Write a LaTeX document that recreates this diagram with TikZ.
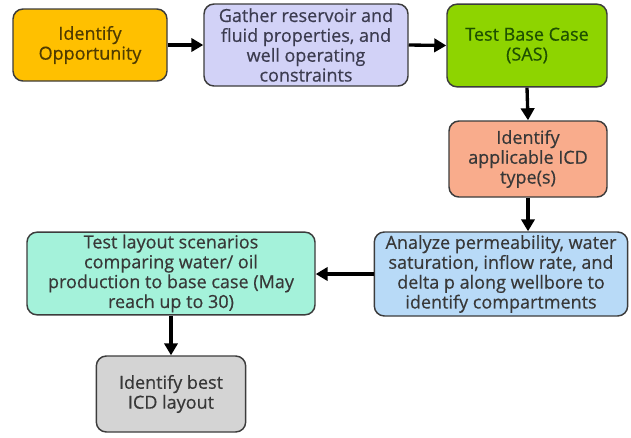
\documentclass[tikz,border=0pt]{standalone}
\usepackage{fontspec}
\setmainfont{Open Sans}
\newfontfamily\boxfont{Open Sans}[FakeBold=0.5]
\usetikzlibrary{arrows.meta}
\definecolor{cOrange}{HTML}{FFC000}
\definecolor{cLav}{HTML}{D2D2F7}
\definecolor{cGreen}{HTML}{8ED400}
\definecolor{cSalmon}{HTML}{F9AC8C}
\definecolor{cBlue}{HTML}{B8DAF7}
\definecolor{cAqua}{HTML}{A4F2DA}
\definecolor{cGray}{HTML}{D4D4D4}
\definecolor{cBorder}{HTML}{3C3C3C}
\begin{document}
\begin{tikzpicture}[x=0.75pt,y=-0.75pt,
  box/.style={draw=cBorder,line width=1.1pt,rounded corners=7.5pt,align=center,
    font=\boxfont\fontsize{13.5}{14.9}\selectfont,inner sep=0pt,text=black!78},
  flow/.style={line width=2.5pt,-{Triangle[length=9pt,width=10pt]}}]
\useasboundingbox (0,0) rectangle (631,437);
\node[box,fill=cOrange,minimum width=115.5pt,minimum height=54pt,text={rgb,255:red,80;green,60;blue,0}] (b1) at (90,45) {Identify\\Opportunity};
\node[box,fill=cLav,minimum width=153pt,minimum height=61.5pt,text={rgb,255:red,60;green,60;blue,80}] (b2) at (306,45) {Gather reservoir and\\fluid properties, and\\well operating\\constraints};
\node[box,fill=cGreen,minimum width=120pt,minimum height=62pt,text={rgb,255:red,30;green,80;blue,0}] (b3) at (527,45.5) {Test Base Case\\(SAS)};
\node[box,fill=cSalmon,minimum width=118.5pt,minimum height=57pt] (b4) at (528,159) {Identify\\applicable ICD\\type(s)};
\node[box,fill=cBlue,minimum width=190pt,minimum height=63pt] (b5) at (501,274) {Analyze permeability, water\\saturation, inflow rate, and\\delta p along wellbore to\\identify compartments};
\node[box,fill=cAqua,minimum width=216pt,minimum height=62pt] (b6) at (171,273.5) {Test layout scenarios\\comparing water/ oil\\production to base case (May\\reach up to 30)};
\node[box,fill=cGray,minimum width=112pt,minimum height=57pt] (b7) at (171,394) {Identify best\\ICD layout};
\draw[flow] (b1.east) -- (b2.west);
\draw[flow] (b2.east) -- (b3.west);
\draw[flow] (b3.south) -- (b4.north);
\draw[flow] (b4.south) -- (b4.south |- b5.north);
\draw[flow] (b5.west) -- (b5.west -| b6.east);
\draw[flow] (b6.south) -- (b7.north);
\end{tikzpicture}
\end{document}
